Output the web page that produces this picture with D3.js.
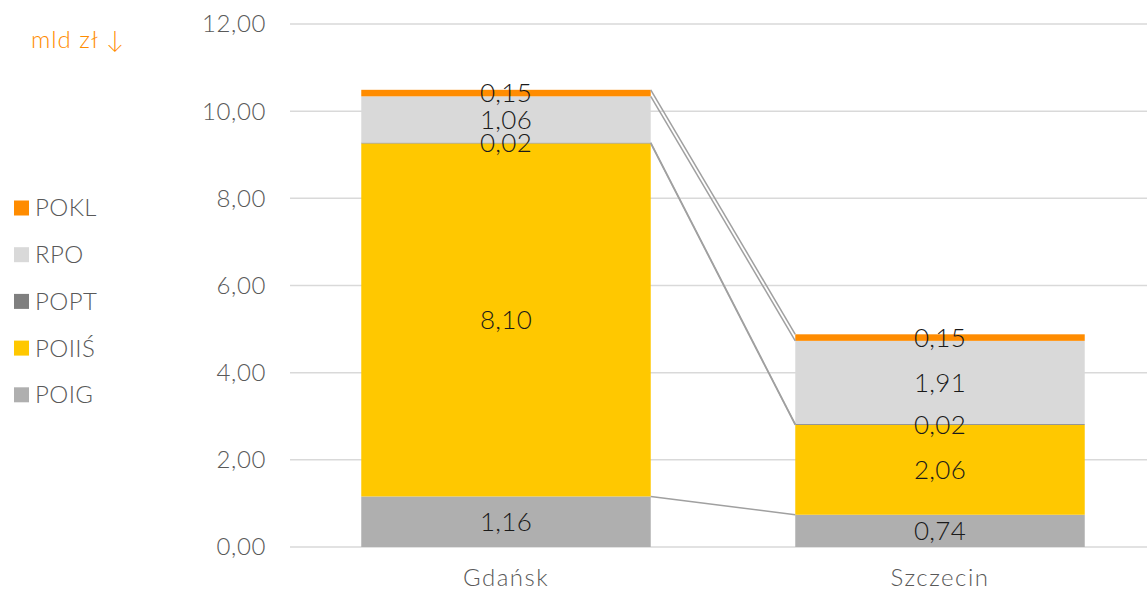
<!DOCTYPE html>
<html><head><meta charset="utf-8">
<script src="https://cdn.jsdelivr.net/npm/d3@7"></script>
<style>
html,body{margin:0;padding:0;background:#fff;}
svg{display:block;font-family:Lato, "Noto Sans", sans-serif;}
</style></head>
<body>
<svg id="c" width="1147" height="590"></svg>
<script>
const categories = ["Gdańsk", "Szczecin"];
const seriesNames = ["POIG", "POIIŚ", "POPT", "RPO", "POKL"];
const POIG = [1.16, 0.74];
const POIIS = [8.10, 2.06];
const POPT = [0.02, 0.02];
const RPO = [1.06, 1.91];
const POKL = [0.15, 0.15];
const seriesColors = ["#afafaf", "#ffc800", "#7f7f7f", "#d9d9d9", "#ff8c00"];
const yTicks = [0, 2, 4, 6, 8, 10, 12];
const legendOrder = ["POKL", "RPO", "POPT", "POIIŚ", "POIG"];
const unitLabel = "mld zł ↓";

const seriesValues = [POIG, POIIS, POPT, RPO, POKL];
const rows = categories.map((c, i) => {
  const r = {cat: c};
  seriesNames.forEach((s, j) => r[s] = seriesValues[j][i]);
  return r;
});
const stacked = d3.stack().keys(seriesNames)(rows);
const fmt = v => v.toFixed(2).replace(".", ",");

const svg = d3.select("#c");
const x = d3.scaleBand().domain(categories).range([289, 1157]).paddingInner(0.333).paddingOuter(0.1665);
const y = d3.scaleLinear().domain([0, 12]).range([547, 24]);
const color = d3.scaleOrdinal().domain(seriesNames).range(seriesColors);

// gridlines
svg.append("g").selectAll("line").data(yTicks).join("line")
  .attr("x1", 290).attr("x2", 1147)
  .attr("y1", d => y(d)).attr("y2", d => y(d))
  .attr("stroke", "#d9d9d9").attr("stroke-width", 1.5);

// y labels
svg.append("g").selectAll("text").data(yTicks).join("text")
  .attr("x", 266).attr("y", d => y(d)).attr("dy", "0.35em")
  .attr("text-anchor", "end").attr("fill", "#595959")
  .attr("font-size", 24).attr("font-weight", 300).attr("letter-spacing", 0.6)
  .text(d => fmt(d));

// bars
const layers = svg.append("g").selectAll("g").data(stacked).join("g")
  .attr("fill", d => color(d.key));
layers.selectAll("rect").data(d => d).join("rect")
  .attr("x", d => x(d.data.cat))
  .attr("width", x.bandwidth())
  .attr("y", d => y(d[1]))
  .attr("height", d => y(d[0]) - y(d[1]));

// series lines
const sl = svg.append("g").attr("stroke", "#a0a0a0").attr("stroke-width", 1.5).attr("fill", "none");
stacked.forEach(s => {
  for (let i = 0; i < categories.length - 1; i++) {
    sl.append("line")
      .attr("x1", x(categories[i]) + x.bandwidth()).attr("y1", y(s[i][1]))
      .attr("x2", x(categories[i + 1])).attr("y2", y(s[i + 1][1]));
  }
});

// data labels
stacked.forEach(s => {
  svg.append("g").selectAll("text").data(s).join("text")
    .attr("x", d => x(d.data.cat) + x.bandwidth() / 2)
    .attr("y", d => (y(d[0]) + y(d[1])) / 2).attr("dy", "0.35em")
    .attr("text-anchor", "middle").attr("fill", "#1a1a1a")
    .attr("font-size", 26).attr("font-weight", 300).attr("letter-spacing", 0.3)
    .text(d => fmt(d[1] - d[0]));
});

// category labels
svg.append("g").selectAll("text").data(categories).join("text")
  .attr("x", d => x(d) + x.bandwidth() / 2).attr("y", 586)
  .attr("text-anchor", "middle").attr("fill", "#595959")
  .attr("font-size", 24).attr("font-weight", 300).attr("letter-spacing", 1.5)
  .text(d => d);

// legend
const lg = svg.append("g").selectAll("g").data(legendOrder).join("g")
  .attr("transform", (d, i) => `translate(14, ${208 + i * 46.7})`);
lg.append("rect").attr("x", 0).attr("y", -7.5).attr("width", 15).attr("height", 15)
  .attr("fill", d => color(d));
lg.append("text").attr("x", 21).attr("dy", "0.35em")
  .attr("fill", "#595959").attr("font-size", 24).attr("font-weight", 300).attr("letter-spacing", 0.4)
  .text(d => d);

// unit label
svg.append("text").attr("x", 31).attr("y", 40).attr("dy", "0.35em")
  .attr("fill", "#ff8c00").attr("font-size", 24).attr("font-weight", 300).attr("letter-spacing", 1)
  .text(unitLabel);
</script>
</body></html>
